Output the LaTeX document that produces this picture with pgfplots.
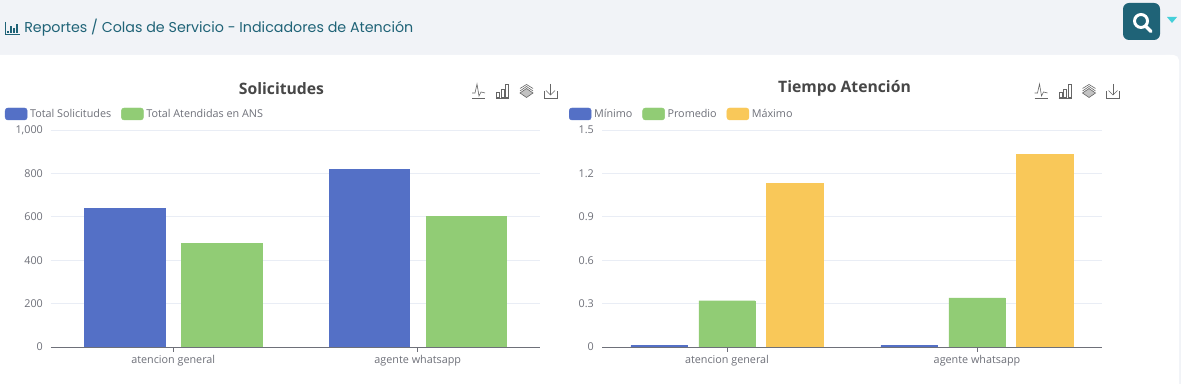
\documentclass[border=0pt]{standalone}
\usepackage{pgfplots}
\pgfplotsset{compat=1.18}
\usepackage{fontspec}
\setmainfont{Open Sans}
\newfontfamily\headfont{Poppins}
\definecolor{eblue}{HTML}{5470C6}
\definecolor{egreen}{HTML}{91CC75}
\definecolor{eyellow}{HTML}{F9C859}
\definecolor{etick}{HTML}{6E7079}
\definecolor{egrid}{HTML}{E9EDF5}
\definecolor{pagebg}{HTML}{F1F3F7}
\definecolor{headtxt}{HTML}{1F6377}
\definecolor{icon}{HTML}{666666}
\definecolor{tri}{HTML}{45CFD9}
\newcommand{\tb}[1]{\fontsize{8.1pt}{10pt}\selectfont #1}
\pgfplotsset{
  ech/.style={
    scale only axis,
    axis x line*=bottom,
    axis y line*=left,
    y axis line style={draw=none},
    x axis line style={draw=etick,line width=.6pt,-},
    ymajorgrids,
    grid style={egrid,line width=.6pt},
    xmin=-0.5,xmax=1.5,ymin=0,
    xtick={0,1},
    xticklabels={atencion general,agente whatsapp},
    tick align=outside,
    major tick length=3.75pt,
    x tick style={draw=etick,line width=.5pt},
    y tick style={draw=none},
    ticklabel style={font=\tb,text=etick},
    /pgf/number format/assume math mode=true,
    /pgf/number format/1000 sep={,},
    /pgf/number format/fixed,
    yticklabel style={xshift=1.2pt},
    xticklabel style={yshift=1pt},
    legend columns=-1,
    legend style={draw=none,fill=none,font=\tb,text=etick,inner sep=0pt,outer sep=0pt,anchor=west,
      /tikz/every even column/.style={column sep=5.5pt}},
  },
  sw/.style={draw=#1,fill=#1,line width=.3pt,opacity=1,
    legend image code/.code={\fill[#1,rounded corners=2pt] (0pt,-4.5pt) rectangle (16.5pt,4.5pt);}},
}
\newcommand{\icons}[1]{%
\begin{scope}[xshift=#1*.75pt,draw=icon,line width=.45pt]
 \draw (472,286) -- (485,286);
 \draw (472,291) -- (475,291) -- (477,300) -- (479,288) -- (481,292) -- (485,291);
 \draw (496.5,287) rectangle (499.5,292);
 \draw (501,287) rectangle (504,295);
 \draw (505.5,287) rectangle (508.5,300);
 \draw (496,286) -- (509,286);
 \draw[fill=icon!40] (526.5,286.5) -- (533,291) -- (526.5,295.5) -- (520,291) -- cycle;
 \draw (520,293) -- (526.5,297.5) -- (533,293);
 \draw (520,295.5) -- (526.5,299.5) -- (533,295.5);
 \draw (544,293) -- (544,286) -- (557,286) -- (557,293);
 \draw (550.5,300) -- (550.5,289);
 \draw (546,293.5) -- (550.5,289) -- (555,293.5);
\end{scope}}
\begin{document}
\begin{tikzpicture}[x=.75pt,y=.75pt]
\fill[pagebg] (0,0) rectangle (1181,384);
\fill[white] (0,0) rectangle (1179,320) (0,320) rectangle (1170,329);
\fill[white,rounded corners=4pt] (1160,300) rectangle (1179,329);
% header
\node[anchor=west,inner sep=0pt,text=headtxt,font=\headfont\fontsize{10.7pt}{12pt}\selectfont] at (24,356) {Reportes / Colas de Servicio - Indicadores de Atenci\'on};
\draw[headtxt,line width=.5pt] (5,362) -- (5,350) (5,350) -- (20,350);
\foreach \a/\b in {8/353,11/358,14/356,17/360}{\draw[headtxt,line width=1.2pt] (\a,351) -- (\a,\b);}
% search button
\fill[headtxt,rounded corners=4.5pt] (1123,344) rectangle (1160,381);
\draw[white,line width=2.2pt] (1141,363) circle (6.5);
\draw[white,line width=2.6pt,line cap=round] (1146,357.5) -- (1151,352.5);
\fill[tri] (1167,367) -- (1177,367) -- (1172,361) -- cycle;
% titles
\node[font=\bfseries\fontsize{11.8pt}{13pt}\selectfont,text=black!72] at (281.5,295.5) {Solicitudes};
\node[font=\bfseries\fontsize{11.8pt}{13pt}\selectfont,text=black!72] at (844.5,295.5) {Tiempo Atenci\'on};
\icons{0}
\icons{562.5}
% left chart
\begin{axis}[ech,at={(38.25pt,27.75pt)},anchor=south west,width=366.75pt,height=162.75pt,
  ybar=12.4pt,bar width=60.3pt,ymax=1000,ytick={0,200,400,600,800,1000},
  legend style={at={(-34.5pt,174.75pt)}}]
\addplot[sw=eblue] coordinates {(0,640) (1,818)};
\addlegendentry{Total Solicitudes}
\addplot[sw=egreen] coordinates {(0,478) (1,602)};
\addlegendentry{Total Atendidas en ANS}
\end{axis}
% right chart
\begin{axis}[ech,at={(451.5pt,27.75pt)},anchor=south west,width=375pt,height=162.75pt,
  ybar=8.6pt,bar width=42.3pt,ymax=1.5,ytick={0,0.3,0.6,0.9,1.2,1.5},
  yticklabels={0,0.3,0.6,0.9,1.2,1.5},
  legend style={at={(-24.75pt,174.75pt)}}]
\addplot[sw=eblue] coordinates {(0,0.01) (1,0.01)};
\addlegendentry{Mínimo}
\addplot[sw=egreen] coordinates {(0,0.32) (1,0.34)};
\addlegendentry{Promedio}
\addplot[sw=eyellow] coordinates {(0,1.13) (1,1.33)};
\addlegendentry{Máximo}
\end{axis}
\end{tikzpicture}
\end{document}
